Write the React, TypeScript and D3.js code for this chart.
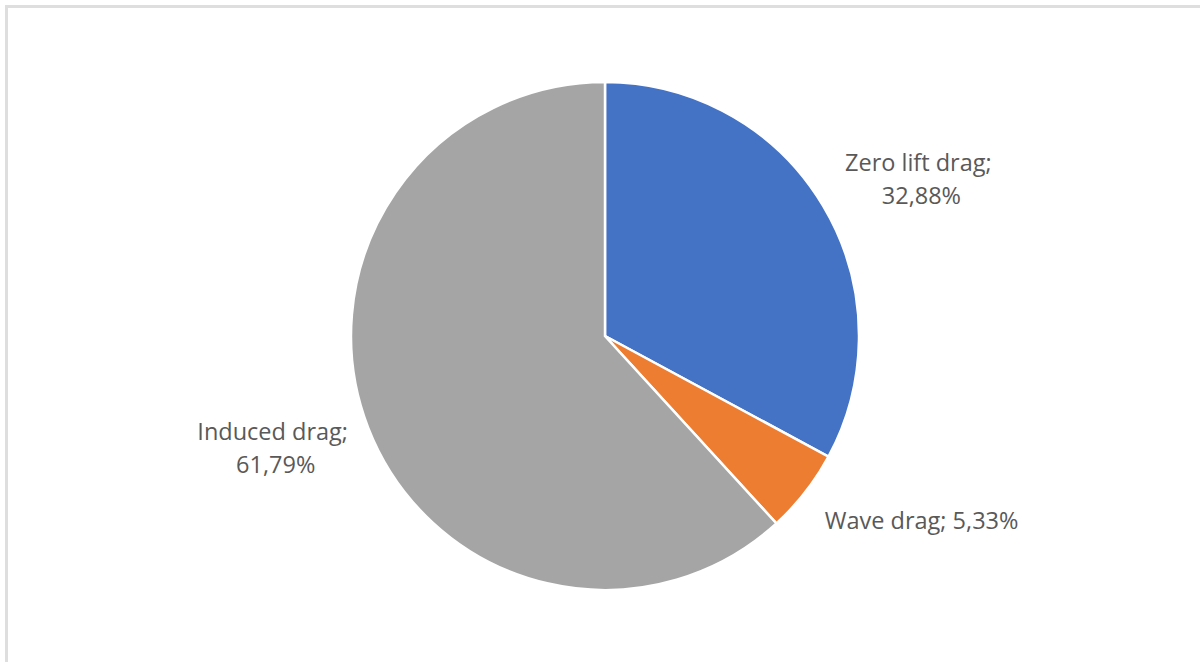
import React, { useEffect, useRef } from "react";
import * as d3 from "d3";

const categories = ["Zero lift drag", "Wave drag", "Induced drag"];
const values = [32.88, 5.33, 61.79];
const labelLines = [
  ["Zero lift drag; ", "32,88%"],
  ["Wave drag; 5,33%"],
  ["Induced drag; ", "61,79%"],
];
const colors = ["#4472C4", "#ED7D31", "#A5A5A5"];

const W = 1200;
const H = 662;
const CX = 605;
const CY = 336;
const R = 254;
const LABEL_R = 292;
const FONT = 23.5;
const LINE_H = 33;
// small best-fit nudges (dx, dy) applied to the computed label positions
const LABEL_NUDGE: [number, number][] = [
  [0, 8],
  [10, -3],
  [16, -4],
];

export default function App() {
  const ref = useRef<SVGSVGElement | null>(null);

  useEffect(() => {
    const svg = d3.select(ref.current);
    svg.selectAll("*").remove();

    svg
      .append("path")
      .attr("d", `M6.5,${H} L6.5,6.5 L${W},6.5`)
      .attr("fill", "none")
      .attr("stroke", "#dedede")
      .attr("stroke-width", 3);

    const data = categories.map((c, i) => ({ name: c, value: values[i], i }));
    const pie = d3
      .pie<any>()
      .value((d) => d.value)
      .sort(null);
    const arcs = pie(data);
    const arc = d3.arc<any>().innerRadius(0).outerRadius(R);

    const g = svg.append("g").attr("transform", `translate(${CX},${CY})`);
    g.selectAll("path.slice")
      .data(arcs)
      .enter()
      .append("path")
      .attr("class", "slice")
      .attr("d", arc as any)
      .attr("fill", (d: any) => colors[d.data.i])
      .attr("stroke", "#ffffff")
      .attr("stroke-width", 2.5)
      .attr("stroke-linejoin", "miter");

    arcs.forEach((a: any) => {
      const lines = labelLines[a.data.i];
      const mid = (a.startAngle + a.endAngle) / 2;
      const s = Math.sin(mid);
      const c = Math.cos(mid);
      const t = g
        .append("text")
        .attr("font-family", "'Open Sans', Lato, sans-serif")
        .attr("font-size", FONT)
        .attr("fill", "#595959")
        .attr("text-anchor", "middle")
        .style("white-space", "pre");
      lines.forEach((ln, k) => {
        t.append("tspan")
          .attr("x", 0)
          .attr("y", (k - (lines.length - 1) / 2) * LINE_H)
          .attr("dy", "0.35em")
          .text(ln);
      });
      const bb = (t.node() as SVGTextElement).getBBox();
      const w = bb.width;
      const h = lines.length * LINE_H - 6;
      const [nx, ny] = LABEL_NUDGE[a.data.i];
      const px = LABEL_R * s + (w / 2) * s + nx;
      const py = -LABEL_R * c - (h / 2) * c + ny;
      t.attr("transform", `translate(${px},${py})`);
    });
  }, []);

  return (
    <svg
      ref={ref}
      width={W}
      height={H}
      style={{ position: "absolute", left: 0, top: 0, background: "#fff" }}
    />
  );
}
